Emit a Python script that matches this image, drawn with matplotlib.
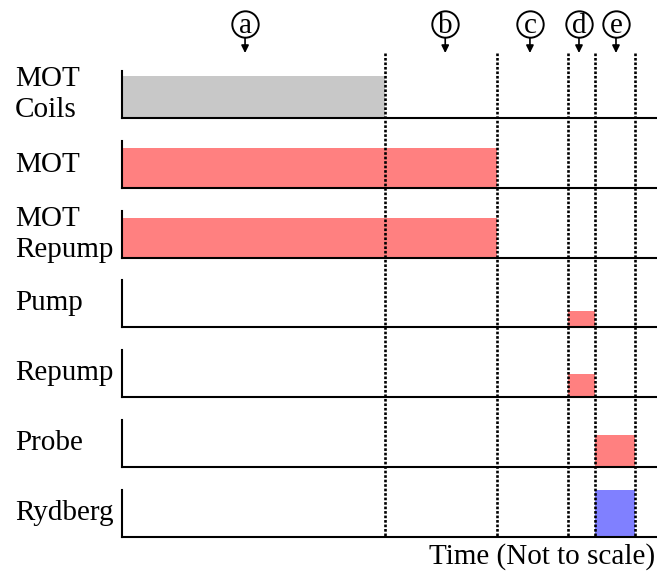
import matplotlib.pyplot as plt
from matplotlib.lines import Line2D
from matplotlib.transforms import blended_transform_factory

plt.rcParams['font.family'] = ['Liberation Serif', 'DejaVu Serif']

# timing sequence (arbitrary time units, not to scale)
signals = ['MOT\nCoils', 'MOT', 'MOT\nRepump', 'Pump', 'Repump', 'Probe', 'Rydberg']
starts = [0, 0, 0, 10.0, 10.0, 10.6, 10.6]
ends = [5.9, 8.4, 8.4, 10.6, 10.6, 11.5, 11.5]
levels = [0.9, 0.85, 0.85, 0.33, 0.5, 0.68, 1.0]
colors = ['#c8c8c8', '#ff8080', '#ff8080', '#ff8080', '#ff8080', '#ff8080', '#8080ff']

# step boundaries and labelled stages
boundaries = [5.9, 8.4, 10.0, 10.6, 11.5]
stages = ['a', 'b', 'c', 'd', 'e']
stage_x = [2.76, 7.25, 9.15, 10.25, 11.08]

W, H = 657, 575
fig = plt.figure(figsize=(W / 100, H / 100), dpi=100)

left = 122 / W
panel_h = 47 / H
bottoms_px = [118, 188, 258, 327, 397, 467, 537]

axes = []
for i, name in enumerate(signals):
    b = 1 - bottoms_px[i] / H
    ax = fig.add_axes([left, b, 1 - left, panel_h])
    ax.bar(starts[i], levels[i], width=ends[i] - starts[i], align='edge',
           color=colors[i], edgecolor='none', zorder=1)
    ax.set_xlim(0, 12)
    ax.set_ylim(0, 1)
    for s in ['top', 'right']:
        ax.spines[s].set_visible(False)
    ax.spines['left'].set_linewidth(1.5)
    ax.spines['bottom'].set_linewidth(1.5)
    ax.set_xticks([])
    ax.set_yticks([])
    fig.text(15 / W, b + panel_h / 2, name, ha='left', va='center',
             fontsize=21, linespacing=1.25)
    axes.append(ax)

top_ax = axes[0]
trans = blended_transform_factory(top_ax.transData, fig.transFigure)

# dotted boundary lines across all panels
for xb in boundaries:
    fig.add_artist(Line2D([xb, xb], [1 - 53 / H, 1 - 537 / H], transform=trans,
                          color='black', lw=1.9, linestyle=(0, (1, 0.7)), zorder=5))

# circled stage markers with arrows
for lab, xs in zip(stages, stage_x):
    fig.add_artist(Line2D([xs], [1 - 24 / H], transform=trans, marker='o',
                          markersize=19, mfc='white', mec='black', mew=1.4,
                          linestyle='none', zorder=6))
    fig.text(xs, 1 - 33 / H, lab, transform=trans, ha='center', va='baseline',
             fontsize=21, zorder=7)
    top_ax.annotate('', xy=(xs, 1 - 53 / H), xytext=(xs, 1 - 37 / H),
                    xycoords=trans, textcoords=trans,
                    arrowprops=dict(arrowstyle='-|>', color='black', lw=1.2,
                                    mutation_scale=11, shrinkA=0, shrinkB=0))

fig.text(655 / W, 1 - 557 / H, 'Time (Not to scale)', ha='right', va='center',
         fontsize=21)

fig.savefig('out.png', dpi=100)
